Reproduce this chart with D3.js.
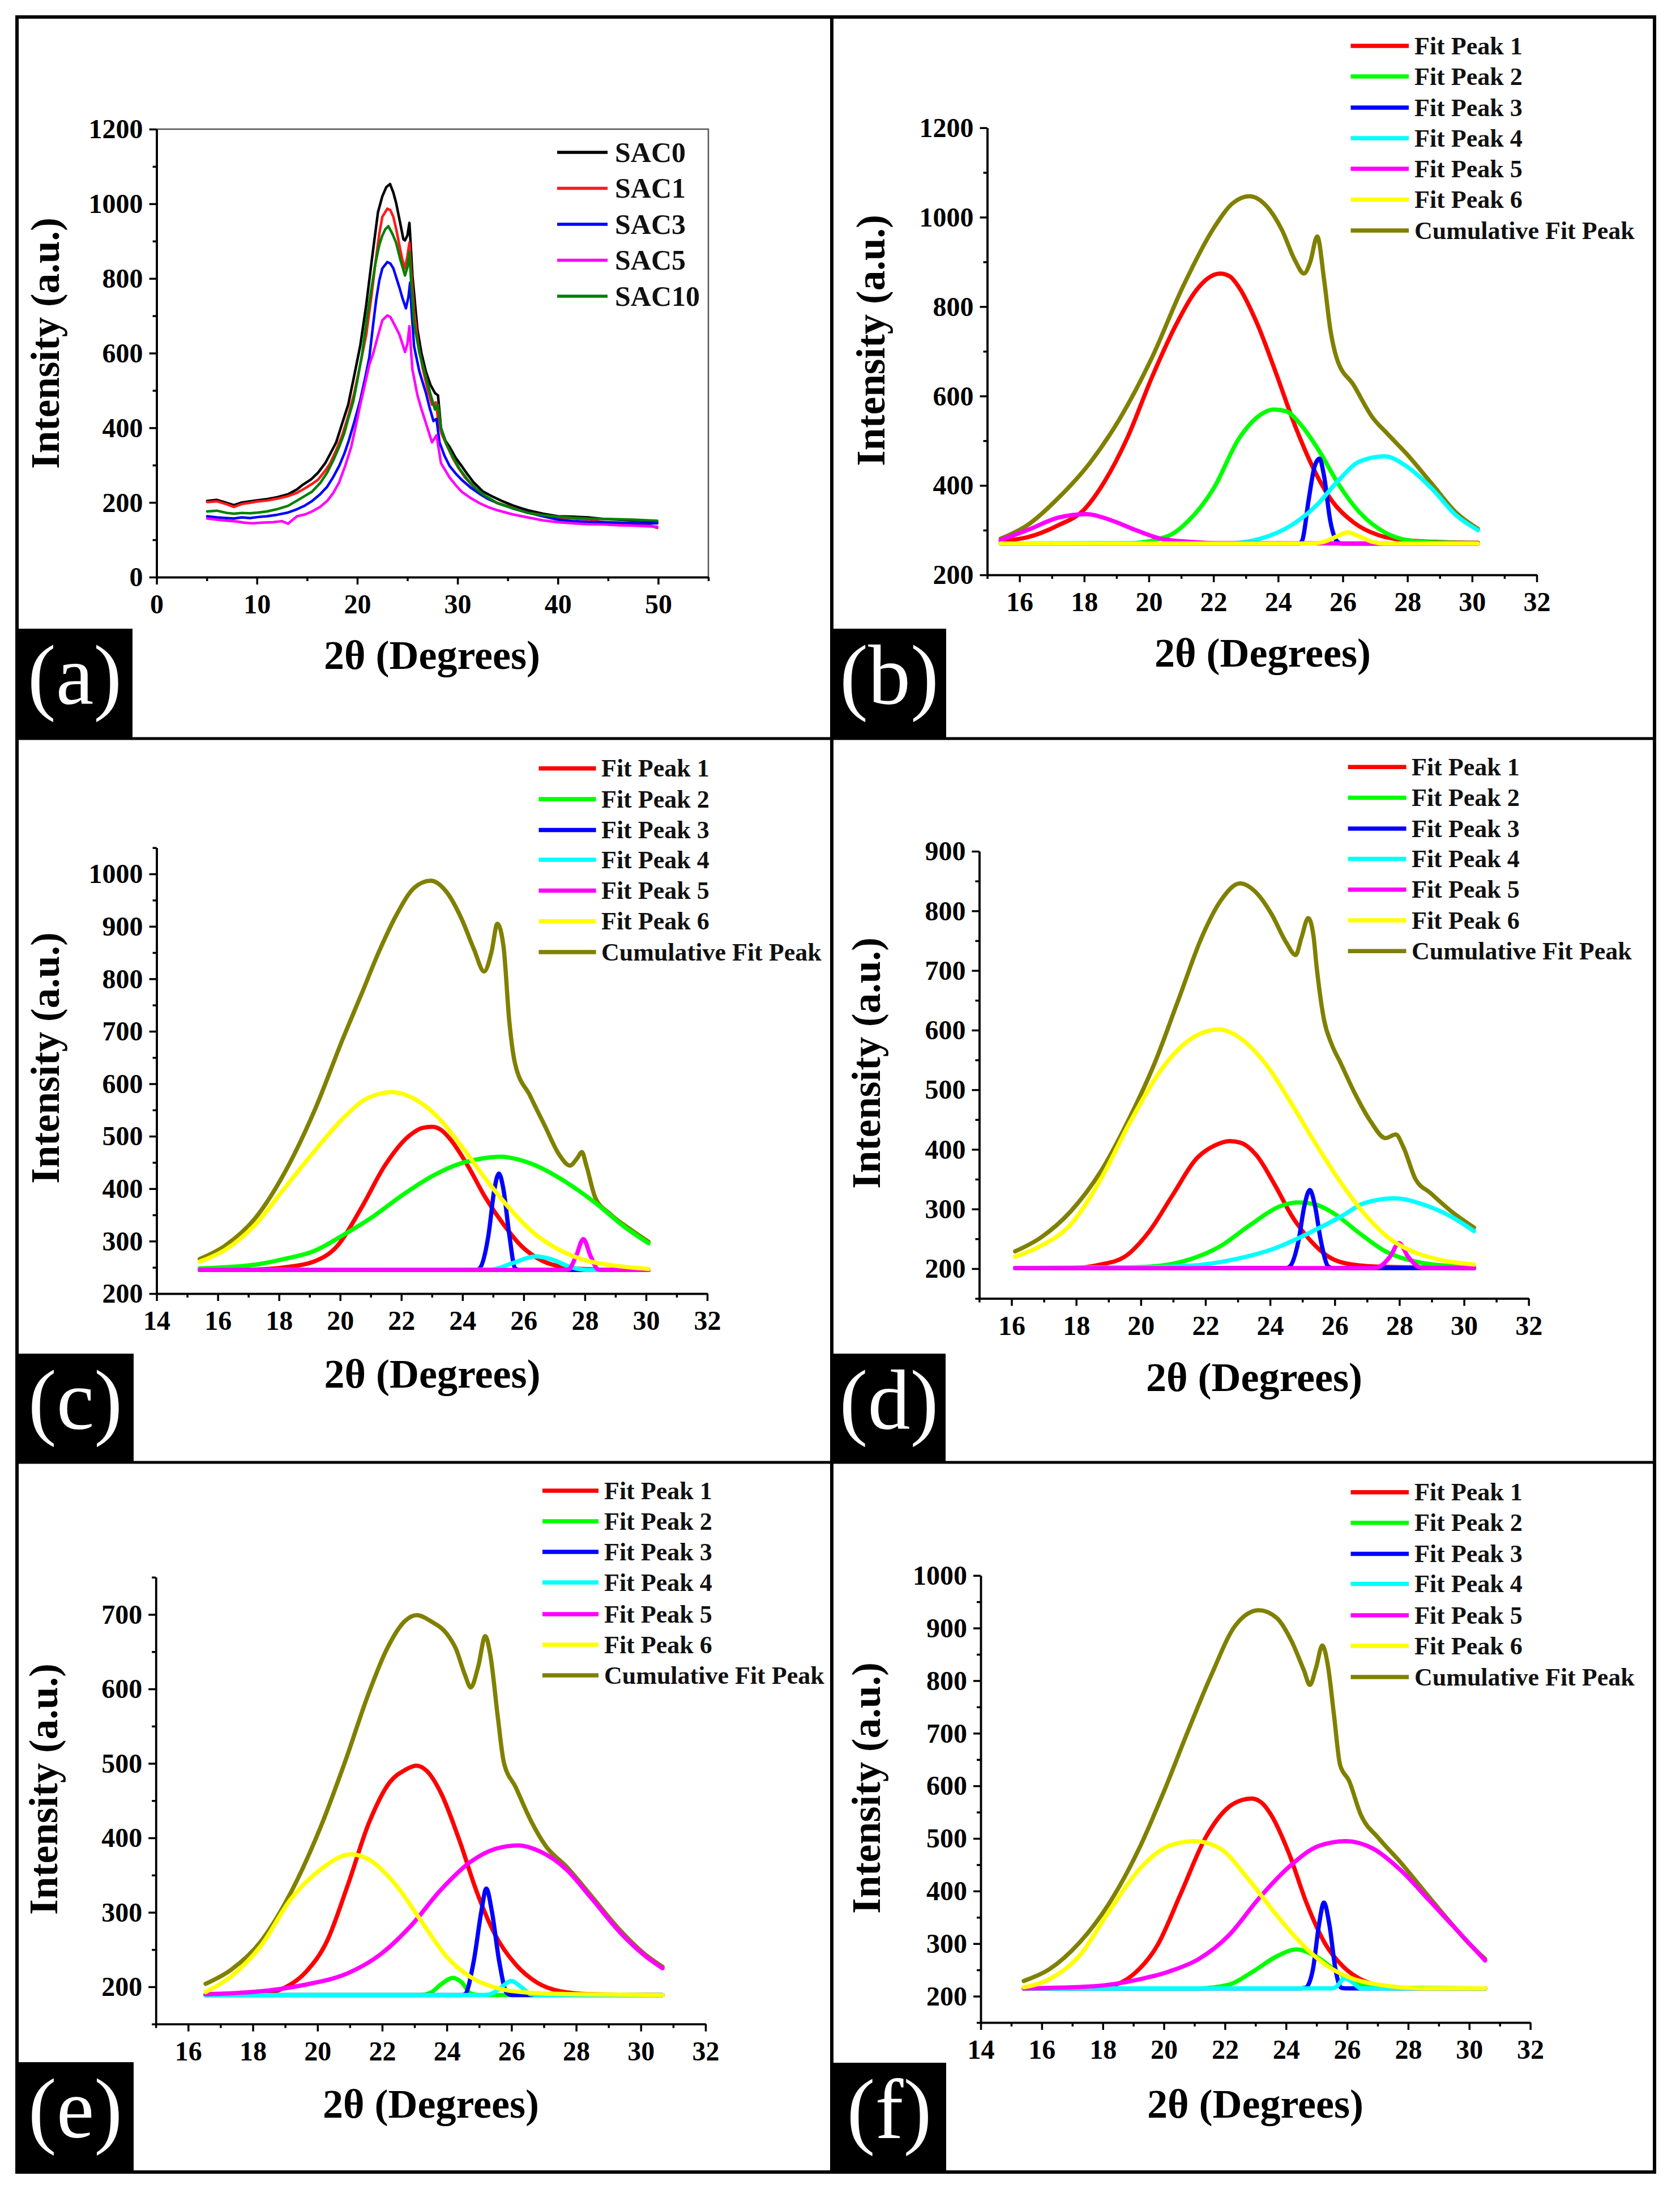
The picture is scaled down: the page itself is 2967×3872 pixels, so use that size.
<!DOCTYPE html>
<html><head><meta charset="utf-8">
<script src="https://cdn.jsdelivr.net/npm/d3@7"></script>
<style>body{margin:0;background:#fff}svg{display:block}</style>
</head><body><svg id="c" width="2967" height="3872"></svg>
<script>
// ---------------- DATA ----------------
// Panel (a): XRD patterns
const sacNames = ["SAC0","SAC1","SAC3","SAC5","SAC10"];
const sac0 = [[5.04,204],[6,207],[7,199],[7.7,193],[8.5,200],[9.3,203],[10.1,206],[11,209],[12,214],[13.1,222],[14,235],[14.6,248],[15.4,262],[16.1,280],[16.8,305],[17.3,330],[17.9,361],[18.5,412],[19.1,462],[19.7,540],[20.3,620],[20.9,730],[21.5,860],[22.07,978],[22.5,1020],[22.9,1045],[23.27,1053],[23.6,1030],[23.87,1003],[24.3,946],[24.6,905],[24.76,902],[25.0,915],[25.2,949],[25.35,880],[25.5,808],[26.0,663],[26.4,600],[26.85,550],[27.3,515],[27.75,493],[28.05,487],[28.35,399],[28.8,365],[29.2,349],[29.8,320],[30.4,298],[31.0,275],[31.6,254],[32.5,230],[33.4,217],[34.5,203],[35.5,192],[36.3,185],[37,179],[38.5,170],[40,163],[41.5,162],[43,160],[44.5,156],[46,154],[47.5,152],[49,150],[49.9,147]];
const sac1 = [[5.04,201],[6,203],[7,195],[7.7,188],[8.5,196],[9.3,199],[10.1,203],[11,205],[12,210],[13.1,217],[14,226],[14.6,235],[15.4,248],[16.1,261],[16.8,285],[17.3,305],[17.9,340],[18.5,380],[19.1,432],[19.7,493],[20.3,570],[20.9,650],[21.4,750],[21.8,839],[22.2,920],[22.5,965],[23.0,987],[23.3,983],[23.6,965],[23.9,930],[24.2,889],[24.5,850],[24.76,827],[25.0,860],[25.2,896],[25.35,830],[25.66,713],[26.1,620],[26.55,556],[27.0,505],[27.45,462],[27.84,468],[28.05,424],[28.4,385],[28.9,355],[29.5,320],[30.1,292],[30.8,265],[31.6,242],[32.5,222],[33.3,208],[34.0,198],[35,190],[36,181],[37,173],[38,168],[39,164],[40,160],[41.5,157],[43,155],[44.5,147],[46,145],[47.5,143],[49,140],[49.9,132]];
const sac3 = [[5.04,163],[6,160],[7,158],[7.7,157],[8.5,160],[9.3,158],[10.1,161],[11,163],[12,167],[13.1,173],[14,182],[14.8,192],[15.5,204],[16.3,222],[17.0,242],[17.6,268],[18.2,298],[18.7,330],[19.1,361],[19.7,415],[20.3,474],[20.8,535],[21.2,588],[21.6,680],[21.9,745],[22.2,795],[22.5,827],[23.0,844],[23.3,840],[23.6,827],[24.2,776],[24.5,748],[24.85,720],[25.1,750],[25.27,789],[25.4,720],[25.66,619],[26.2,550],[26.85,493],[27.2,455],[27.6,418],[27.9,424],[28.2,361],[28.7,325],[29.2,298],[29.8,278],[30.4,261],[31.3,240],[32.2,223],[33,210],[34,198],[35.5,184],[37,173],[38.5,163],[40,154],[41.5,150],[43,148],[44.5,147],[46,146],[47.5,145],[49,144],[49.9,144]];
const sac5 = [[5.04,157],[6,154],[7.1,151],[8,149],[8.7,146],[9.5,144],[10.5,146],[11.6,147],[12.5,150],[13.1,143],[13.5,152],[14.0,163],[14.8,168],[15.5,176],[16.3,188],[17.0,204],[17.6,225],[18.2,254],[18.8,298],[19.4,349],[19.9,410],[20.3,462],[20.8,520],[21.2,569],[21.6,600],[22.1,650],[22.5,688],[23.0,701],[23.3,697],[23.6,682],[24.2,650],[24.5,625],[24.76,603],[25.0,625],[25.2,672],[25.35,610],[25.5,556],[26.0,487],[26.4,450],[26.85,412],[27.45,361],[27.9,380],[28.35,305],[28.8,285],[29.2,267],[29.8,247],[30.4,229],[31.3,212],[32.2,198],[33,188],[34,179],[35.5,168],[37,160],[38.5,152],[40,147],[41.5,144],[43,142],[44.5,141],[46,139],[47.5,138],[49,136],[49.9,135]];
const sac10 = [[5.04,176],[6,178],[7,172],[7.7,170],[8.5,172],[9.3,171],[10.1,173],[11,176],[12,182],[13.1,191],[14,205],[14.8,218],[15.5,229],[16.3,252],[17.0,280],[17.6,312],[18.2,349],[18.7,385],[19.1,424],[19.6,470],[20.0,525],[20.5,600],[20.9,682],[21.4,770],[21.8,839],[22.2,890],[22.5,915],[22.8,932],[23.1,940],[23.5,920],[23.87,896],[24.3,850],[24.76,808],[25.0,830],[25.2,871],[25.35,800],[25.66,682],[26.2,600],[26.85,537],[27.3,490],[27.75,449],[28.05,462],[28.35,399],[28.9,355],[29.5,324],[30.2,290],[31.0,261],[31.9,235],[32.8,217],[34,198],[35.5,185],[37,172],[38.5,166],[40,162],[41.5,159],[43,157],[44.5,156],[46,155],[47.5,154],[49,152],[49.9,151]];

// Fit panels legend labels
const fitNames = ["Fit Peak 1","Fit Peak 2","Fit Peak 3","Fit Peak 4","Fit Peak 5","Fit Peak 6","Cumulative Fit Peak"];

// Panel (b)
const b_p1 = [[15.42,276],[16.24,284],[17.2,311],[17.97,344],[18.64,410],[19.32,504],[20.09,641],[20.86,762],[21.43,833],[21.8,862],[22.2,874],[22.5,868],[22.78,844],[23.35,762],[23.93,652],[24.51,536],[25.09,438],[25.66,366],[26.34,317],[27.1,289],[28.07,277],[29.22,273],[30.18,272]];
const b_p2 = [[15.42,270],[19.4,271],[20.57,286],[21.24,322],[22.01,394],[22.78,504],[23.45,558],[23.85,570],[24.25,566],[24.7,536],[25.28,476],[25.85,405],[26.53,339],[27.3,295],[27.97,278],[28.74,273],[30.18,271]];
const b_p3 = [[15.42,270],[24.65,270],[24.75,278],[24.94,366],[25.13,443],[25.28,460],[25.42,421],[25.61,322],[25.81,276],[25.95,270],[30.18,270]];
const b_p4 = [[15.42,270],[22.5,271],[23.45,281],[24.41,311],[25.18,355],[25.85,410],[26.53,454],[27.3,465],[27.97,443],[28.74,394],[29.51,333],[30.18,300]];
const b_p5 = [[15.42,278],[16.24,300],[17.2,328],[18.07,336],[18.84,322],[19.6,300],[20.37,281],[21.24,274],[22.0,271],[30.18,270]];
const b_p6 = [[15.42,270],[25.0,270],[25.37,273],[25.85,287],[26.14,295],[26.48,287],[26.91,274],[27.3,270],[30.18,270]];
const b_cum = [[15.42,281],[16.24,311],[17.2,372],[18.16,449],[19.13,553],[20.09,685],[21.05,844],[22.01,976],[22.59,1031],[23.11,1047],[23.64,1025],[24.12,971],[24.51,905],[24.8,874],[24.99,899],[25.21,957],[25.42,861],[25.61,751],[25.81,685],[26.34,624],[26.91,553],[27.39,515],[27.97,471],[28.74,405],[29.51,339],[30.18,303]];

// Panel (c)
const c_p1 = [[15.41,245],[17.2,246],[18.17,250],[19.14,261],[19.91,291],[20.69,363],[21.46,444],[22.24,500],[22.7,516],[23.01,518],[23.3,512],[23.59,495],[24.17,444],[24.75,383],[25.34,332],[25.92,291],[26.59,263],[27.37,250],[28.34,246],[30.08,245]];
const c_p2 = [[15.41,248],[17.2,255],[18.17,266],[19.14,281],[20.11,312],[21.08,347],[22.04,388],[23.01,424],[23.98,449],[24.7,458],[25.25,461],[25.8,456],[26.4,444],[27.37,413],[28.34,373],[29.3,327],[30.08,296]];
const c_p3 = [[15.41,245],[24.45,245],[24.56,248],[24.85,312],[25.04,398],[25.19,429],[25.34,398],[25.53,312],[25.72,248],[25.85,245],[30.08,245]];
const c_p4 = [[15.41,245],[24.95,246],[25.63,258],[26.4,271],[26.88,266],[27.56,250],[28.14,245],[30.08,245]];
const c_p5 = [[15.41,245],[27.35,245],[27.47,246],[27.71,271],[27.95,304],[28.19,271],[28.43,246],[28.55,245],[30.08,245]];
const c_p6 = [[15.41,261],[16.23,283],[17.2,330],[18.17,400],[19.14,470],[20.11,535],[20.88,572],[21.7,584],[22.43,571],[23.2,536],[23.98,480],[24.75,419],[25.53,363],[26.3,317],[27.08,286],[28.05,263],[29.01,253],[30.08,247]];
const c_cum = [[15.41,266],[16.23,291],[17.2,342],[18.17,429],[19.14,546],[20.11,689],[20.69,770],[21.27,852],[21.85,923],[22.43,974],[22.96,987],[23.5,964],[23.98,913],[24.37,857],[24.71,814],[24.95,852],[25.14,905],[25.34,862],[25.53,719],[25.72,638],[26.21,577],[26.69,520],[27.17,464],[27.51,444],[27.76,459],[27.9,470],[28.05,444],[28.34,383],[28.82,352],[29.5,322],[30.08,299]];

// Panel (d)
const d_p1 = [[16.11,201],[17.8,201],[18.76,207],[19.5,220],[20.24,261],[20.98,323],[21.73,385],[22.3,407],[22.75,414],[23.1,411],[23.58,390],[24.14,341],[24.69,287],[25.25,247],[25.81,220],[26.55,207],[27.57,203],[30.31,201]];
const d_p2 = [[16.11,201],[19.6,202],[20.61,205],[21.54,216],[22.47,238],[23.4,274],[24.32,305],[24.85,311],[25.3,309],[25.99,292],[26.73,261],[27.57,229],[28.5,212],[29.42,205],[30.31,203]];
const d_p3 = [[16.11,201],[24.5,201],[24.6,203],[24.88,247],[25.06,305],[25.23,332],[25.39,305],[25.57,247],[25.81,203],[25.95,201],[30.31,201]];
const d_p4 = [[16.11,201],[19.68,202],[21.54,205],[22.93,216],[24.14,234],[25.25,261],[26.18,287],[26.92,310],[27.85,318],[28.77,307],[29.61,287],[30.31,263]];
const d_p5 = [[16.11,201],[27.25,201],[27.38,203],[27.71,220],[27.99,243],[28.27,220],[28.59,203],[28.75,201],[30.31,201]];
const d_p6 = [[16.11,220],[16.9,238],[17.83,274],[18.76,350],[19.68,447],[20.61,532],[21.54,585],[22.42,601],[23.21,581],[23.95,537],[24.69,474],[25.44,407],[26.18,345],[26.92,292],[27.66,252],[28.4,229],[29.33,214],[30.31,207]];
const d_cum = [[16.11,229],[16.9,252],[17.83,296],[18.76,363],[19.68,456],[20.43,545],[21.17,652],[21.91,759],[22.47,817],[23.07,846],[23.58,830],[24.04,795],[24.51,746],[24.79,726],[24.97,755],[25.18,788],[25.34,759],[25.44,706],[25.67,617],[25.9,577],[26.18,545],[26.64,492],[27.11,447],[27.57,419],[27.89,425],[28.13,403],[28.5,350],[28.96,327],[29.61,296],[30.31,269]];

// Panel (e)
const e_p1 = [[16.54,189],[18.25,191],[18.99,199],[19.64,220],[20.29,261],[20.94,337],[21.59,420],[22.24,475],[22.7,491],[23.05,497],[23.4,489],[23.81,461],[24.37,399],[24.93,327],[25.48,271],[26.13,230],[26.78,206],[27.52,194],[28.45,190],[30.67,189]];
const e_p2 = [[16.54,189],[23.2,189],[23.5,192],[23.81,203],[24.19,212],[24.46,206],[24.74,191],[25.0,189],[30.67,189]];
const e_p3 = [[16.54,189],[24.45,189],[24.56,190],[24.83,234],[25.07,302],[25.22,332],[25.39,302],[25.62,234],[25.85,192],[26.0,189],[30.67,189]];
const e_p4 = [[16.54,189],[25.2,189],[25.4,191],[25.67,199],[25.99,208],[26.32,199],[26.6,190],[26.8,189],[30.67,189]];
const e_p5 = [[16.54,190],[18.25,194],[19.64,203],[21.03,220],[21.96,244],[22.89,282],[23.81,330],[24.74,368],[25.48,385],[26.22,390],[26.87,382],[27.71,357],[28.45,320],[29.38,272],[30.12,242],[30.67,225]];
const e_p6 = [[16.54,193],[17.33,214],[18.25,255],[19.18,318],[20.11,358],[21.03,378],[21.59,371],[22.42,337],[23.26,285],[24.0,240],[24.74,213],[25.67,197],[26.6,192],[28,190],[30.67,189]];
const e_cum = [[16.54,204],[17.33,223],[18.25,261],[19.18,327],[20.11,416],[20.85,502],[21.59,595],[22.15,654],[22.7,691],[23.07,699],[23.54,690],[24.0,674],[24.28,654],[24.56,619],[24.74,602],[24.97,630],[25.19,671],[25.34,647],[25.58,561],[25.76,502],[26.13,468],[26.6,423],[27.06,389],[27.71,361],[28.45,323],[29.38,275],[30.12,244],[30.67,227]];

// Panel (f)
const f_p1 = [[15.41,215],[17.2,215],[18.2,219],[18.99,241],[19.78,296],[20.56,396],[21.35,500],[22.13,560],[22.55,573],[22.87,576],[23.2,568],[23.51,545],[24.1,471],[24.68,376],[25.27,301],[25.86,257],[26.45,232],[27.24,219],[28.32,215],[30.52,215]];
const f_p2 = [[15.41,215],[21.15,215],[22.13,222],[22.92,247],[23.7,276],[24.34,289],[24.98,276],[25.67,247],[26.35,224],[27.24,216],[30.52,215]];
const f_p3 = [[15.41,215],[24.5,215],[24.64,216],[24.88,251],[25.08,336],[25.24,378],[25.42,336],[25.62,251],[25.81,216],[26.0,215],[30.52,215]];
const f_p4 = [[15.41,215],[25.5,215],[25.65,218],[25.91,234],[26.16,227],[26.45,215],[30.52,215]];
const f_p5 = [[15.41,215],[17.7,219],[19.19,232],[20.17,247],[21.15,271],[22.13,316],[23.11,386],[24.1,446],[25.08,486],[25.96,495],[26.84,481],[27.73,441],[28.71,381],[29.59,326],[30.52,268]];
const f_p6 = [[15.41,217],[16.24,232],[17.22,276],[18.2,361],[19.19,441],[20.17,486],[21.0,495],[21.84,481],[22.72,426],[23.6,361],[24.49,301],[25.27,261],[26.06,236],[27.04,222],[28.51,215],[30.52,215]];
const f_cum = [[15.41,229],[16.24,251],[17.22,301],[18.2,376],[19.19,481],[19.97,585],[20.76,700],[21.54,809],[22.33,904],[23.11,934],[23.7,919],[24.19,874],[24.59,819],[24.78,792],[24.98,824],[25.19,867],[25.37,829],[25.57,735],[25.77,640],[26.06,610],[26.45,545],[27.04,500],[27.73,456],[28.51,401],[29.3,346],[29.98,301],[30.52,271]];

// Tick values
const aXTicks = [0,10,20,30,40,50], aYTicks = [0,200,400,600,800,1000,1200];
const evenTicks16 = [16,18,20,22,24,26,28,30,32];
const evenTicks14 = [14,16,18,20,22,24,26,28,30,32];

// ---------------- STYLES / LAYOUT ----------------
const FONT = "'Liberation Serif','Times New Roman',Times,serif";
const sacColors = ["#000000","#ff1a1a","#0000ff","#ff00ff","#008000"];
const fitColors = ["#ff0000","#00ff00","#0000ff","#00ffff","#ff00ff","#ffff00","#808000"];
const svg = d3.select("#c");
svg.append("rect").attr("width",2967).attr("height",3872).attr("fill","#fff");

function range(a,b,s){return d3.range(a,b+0.0001,s);}

const panels = [
 {lab:"(a)", x0:276.6,x1:1251,y0:1019,y1:228, xd:[0,55], yd:[0,1200], xt:aXTicks, xm:range(5,55,10), yt:aYTicks, ym:range(100,1100,200), box:true,
  series:[sac0,sac1,sac3,sac5,sac10], colors:sacColors, names:sacNames, sw:4.5, curve:d3.curveLinear,
  leg:{ys:[269,332.5,396,459.5,523], lx1:984, lx2:1073, tx:1086, fs:50, sw:5.5},
  xl:{x:763,y:1181}, yl:{x:104,y:606}, lb:{x:30,y:1110,w:204,h:194}},
 {lab:"(b)", x0:1743.5,x1:2714,y0:1015,y1:225.6, xd:[15,32], yd:[200,1200], xt:evenTicks16, xm:range(15,31,2), yt:range(200,1200,200), ym:range(300,1100,200),
  series:[b_cum,b_p1,b_p2,b_p3,b_p4,b_p5,b_p6], colors:[fitColors[6],...fitColors.slice(0,6)],
  leg:{ys:[81,135,190,244,298,352.6,407], lx1:2385.5, lx2:2488, tx:2498},
  xl:{x:2230,y:1177}, yl:{x:1562,y:601}, lb:{x:1470,y:1110,w:201,h:194}},
 {lab:"(c)", x0:276.6,x1:1249,y0:2284,y1:1496.7, xd:[14,32], yd:[200,1050], xt:evenTicks14, xm:range(15,31,2), yt:range(200,1000,100), ym:range(250,1050,100),
  series:[c_cum,c_p1,c_p2,c_p3,c_p4,c_p5,c_p6], colors:[fitColors[6],...fitColors.slice(0,6)],
  leg:{ys:[1356.8,1411,1465.5,1518,1572.4,1626.7,1681], lx1:951.5, lx2:1052.6, tx:1062},
  xl:{x:763.5,y:2450}, yl:{x:104,y:1868}, lb:{x:30,y:2390,w:206,h:193}},
 {lab:"(d)", x0:1729.4,x1:2699.7,y0:2292.6,y1:1503, xd:[15,32], yd:[150,900], xt:evenTicks16, xm:range(15,31,2), yt:range(200,900,100), ym:range(150,850,100),
  series:[d_cum,d_p1,d_p2,d_p3,d_p4,d_p5,d_p6], colors:[fitColors[6],...fitColors.slice(0,6)],
  leg:{ys:[1354.3,1408.6,1463,1516.4,1570.7,1625,1679.3], lx1:2380.6, lx2:2483.5, tx:2493},
  xl:{x:2215,y:2456}, yl:{x:1554,y:1877}, lb:{x:1470,y:2390,w:200,h:193}},
 {lab:"(e)", x0:275.2,x1:1246,y0:3573.7,y1:2784.8, xd:[15,32], yd:[150,750], xt:evenTicks16, xm:range(15,31,2), yt:range(200,700,100), ym:range(150,750,100),
  series:[e_cum,e_p1,e_p2,e_p3,e_p4,e_p5,e_p6], colors:[fitColors[6],...fitColors.slice(0,6)],
  leg:{ys:[2632,2686,2740,2794,2850,2904,2958], lx1:958, lx2:1057, tx:1067},
  xl:{x:761,y:3739}, yl:{x:101,y:3159}, lb:{x:30,y:3641,w:206,h:194}},
 {lab:"(f)", x0:1732,x1:2702.6,y0:3571,y1:2781.7, xd:[14,32], yd:[150,1000], xt:evenTicks14, xm:range(15,31,2), yt:range(200,1000,100), ym:range(150,950,100),
  series:[f_cum,f_p1,f_p2,f_p3,f_p4,f_p5,f_p6], colors:[fitColors[6],...fitColors.slice(0,6)],
  leg:{ys:[2634.7,2688.7,2743.5,2796.6,2852,2906,2961], lx1:2385.5, lx2:2488, tx:2498},
  xl:{x:2217,y:3739}, yl:{x:1554,y:3157}, lb:{x:1470,y:3642,w:201,h:194}}
];

panels.forEach((p,pi)=>{
  const g = svg.append("g");
  const x = d3.scaleLinear().domain(p.xd).range([p.x0,p.x1]);
  const y = d3.scaleLinear().domain(p.yd).range([p.y0,p.y1]);

  if(p.box){
    g.append("path").attr("d",`M${p.x0},${p.y1}H${p.x1}V${p.y0}`).attr("fill","none").attr("stroke","#555").attr("stroke-width",2.5);
  }

  const line = d3.line().x(d=>x(d[0])).y(d=>y(d[1])).curve(p.curve||d3.curveMonotoneX);
  p.series.forEach((s,i)=>{
    g.append("path").datum(s).attr("d",line).attr("fill","none")
     .attr("stroke",p.colors[i]).attr("stroke-width",p.sw||7.5)
     .attr("stroke-linejoin","round").attr("stroke-linecap","round");
  });

  const ax = g.append("g").attr("transform",`translate(0,${p.y0})`)
    .call(d3.axisBottom(x).tickValues(p.xt).tickSize(13).tickSizeOuter(0).tickPadding(17).tickFormat(d3.format("d")));
  const axm = g.append("g").attr("transform",`translate(0,${p.y0})`)
    .call(d3.axisBottom(x).tickValues(p.xm).tickSize(7).tickSizeOuter(0).tickFormat(""));
  const ay = g.append("g").attr("transform",`translate(${p.x0},0)`)
    .call(d3.axisLeft(y).tickValues(p.yt).tickSize(13).tickSizeOuter(0).tickPadding(11).tickFormat(d3.format("d")));
  const aym = g.append("g").attr("transform",`translate(${p.x0},0)`)
    .call(d3.axisLeft(y).tickValues(p.ym).tickSize(7).tickSizeOuter(0).tickFormat(""));
  [ax,axm,ay,aym].forEach(a=>{
    a.select(".domain").attr("stroke","#000").attr("stroke-width",3.5);
    a.selectAll(".tick line").attr("stroke","#000").attr("stroke-width",3.5);
    a.selectAll("text").attr("font-family",FONT).attr("font-weight","bold").attr("font-size",48).attr("fill","#000");
  });
  ay.selectAll("text").attr("dy","0.33em");

  g.append("text").attr("x",p.xl.x).attr("y",p.xl.y).attr("text-anchor","middle")
   .attr("font-family",FONT).attr("font-weight","bold").attr("font-size",72).text("2θ (Degrees)");
  g.append("text").attr("transform",`translate(${p.yl.x},${p.yl.y}) rotate(-90)`).attr("text-anchor","middle")
   .attr("font-family",FONT).attr("font-weight","bold").attr("font-size",71).text("Intensity (a.u.)");

  const names = p.names || fitNames;
  const lcolors = p.names ? p.colors : fitColors;
  const fs = p.leg.fs || 44;
  names.forEach((n,i)=>{
    const ly = p.leg.ys[i];
    g.append("line").attr("x1",p.leg.lx1).attr("x2",p.leg.lx2).attr("y1",ly).attr("y2",ly)
     .attr("stroke",lcolors[i]).attr("stroke-width",p.leg.sw||7.5);
    g.append("text").attr("x",p.leg.tx).attr("y",ly+fs*0.33).attr("font-family",FONT)
     .attr("font-weight","bold").attr("font-size",fs).attr("fill","#111").text(n);
  });

  g.append("rect").attr("x",p.lb.x).attr("y",p.lb.y).attr("width",p.lb.w).attr("height",p.lb.h).attr("fill","#000");
  g.append("text").attr("x",p.lb.x+p.lb.w/2).attr("y",p.lb.y+p.lb.h/2+36).attr("text-anchor","middle")
   .attr("font-family",FONT).attr("font-size",150).attr("fill","#fff").text(p.lab);
});

svg.append("rect").attr("x",30).attr("y",30).attr("width",2892).attr("height",3805)
  .attr("fill","none").attr("stroke","#000").attr("stroke-width",6);
svg.append("line").attr("x1",1469).attr("x2",1469).attr("y1",30).attr("y2",3835).attr("stroke","#000").attr("stroke-width",6);
svg.append("line").attr("x1",30).attr("x2",2922).attr("y1",1304).attr("y2",1304).attr("stroke","#000").attr("stroke-width",5);
svg.append("line").attr("x1",30).attr("x2",2922).attr("y1",2582).attr("y2",2582).attr("stroke","#000").attr("stroke-width",5);
</script></body></html>
